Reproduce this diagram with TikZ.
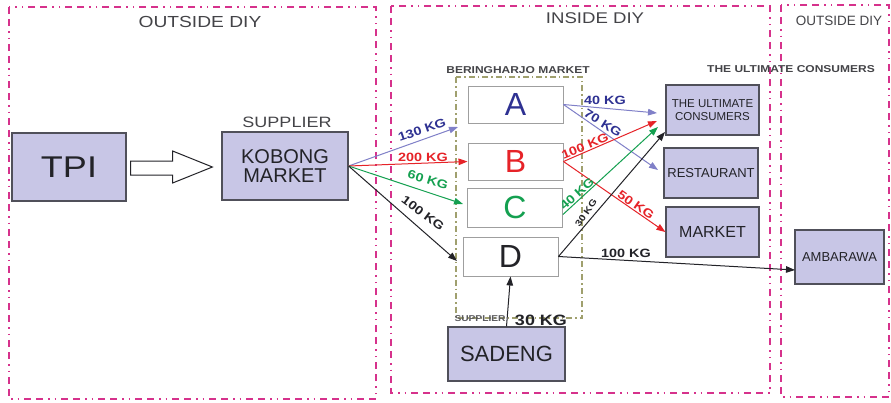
\documentclass[tikz,border=0pt]{standalone}
\usepackage{fontspec}
\setmainfont{Liberation Sans}
\newfontfamily\wide[FakeStretch=1.2]{Liberation Sans}
\usetikzlibrary{arrows.meta,calc}
\definecolor{boxfill}{RGB}{200,198,230}
\definecolor{boxline}{RGB}{80,80,90}
\definecolor{pinkframe}{RGB}{214,50,140}
\definecolor{olivedash}{RGB}{160,160,110}
\definecolor{navyink}{RGB}{46,49,146}
\definecolor{slatearrow}{RGB}{128,128,200}
\definecolor{kgred}{RGB}{230,35,40}
\definecolor{kggreen}{RGB}{20,160,80}
\definecolor{ink}{RGB}{35,35,40}
\newcommand{\fsz}[1]{\fontsize{#1}{#1}\selectfont}
\begin{document}
\begin{tikzpicture}[x=1pt,y=-1pt,
  lbox/.style={draw=boxline, line width=1.2pt, fill=boxfill, inner sep=0pt, align=center, text=ink},
  wbox/.style={draw=gray!75, line width=0.9pt, fill=white, inner sep=0pt, minimum width=95pt},
  region/.style={draw=pinkframe, line width=1.8pt, dash pattern=on 7pt off 5pt on 7pt off 5pt on 1.5pt off 5pt on 1.5pt off 5pt},
  flow/.style={line width=1pt, -{Triangle[length=9pt,width=6.5pt]}},
  kg/.style={font=\wide\bfseries\fsz{12}, inner sep=0pt},
  head/.style={text=ink!85, inner sep=0pt}
]
\useasboundingbox (0,0) rectangle (891,402);
\fill[white] (0,0) rectangle (891,402);

% regions
\draw[region] (9,7) rectangle (376,399);
\draw[region] (391,6) rectangle (770,393);
\draw[region] (781,5) rectangle (889,397);
\node[head, font=\wide\fsz{16}] (h1) at (200,22) {OUTSIDE DIY};
\node[head, font=\wide\fsz{15.5}] (h2) at (595,18) {INSIDE DIY};
\node[head, font=\fsz{13.5}] (h3) at (839,21) {OUTSIDE DIY};

% Beringharjo box
\draw[draw=olivedash, line width=1.2pt, dash pattern=on 6pt off 3pt on 1.5pt off 3pt] (456,77) rectangle (582,318);
\node[head, font=\wide\bfseries\fsz{10}] (bm) at (518,70) {BERINGHARJO MARKET};
\node[head, font=\wide\bfseries\fsz{10}] (ucl) at (791,69) {THE ULTIMATE CONSUMERS};

% left nodes
\node[lbox, minimum width=114pt, minimum height=68pt, font=\wide\fsz{30}] (tpi) at (69,167) {TPI};
\node[lbox, minimum width=126pt, minimum height=68pt, font=\fsz{20}] (kob) at (285,166) {KOBONG\\[-1pt]MARKET};
\node[head, font=\wide\fsz{15}] (sup) at (287,122) {SUPPLIER};
\draw[draw=ink, line width=1pt, fill=white]
  ($(tpi.east)+(4,-6)$) -- ++(42,0) -- ++(0,-10) -- ($(kob.west)+(-9,1)$) -- ($(tpi.east)+(46,16)$) -- ++(0,-8) -- ($(tpi.east)+(4,8)$) -- cycle;

% market stalls
\node[wbox, minimum height=37pt, text=navyink, font=\fsz{32}] (A) at (515.5,104.5) {A};
\node[wbox, minimum height=37pt, text=kgred, font=\fsz{32}] (B) at (515.5,161.5) {B};
\node[wbox, minimum height=39pt, text=kggreen, font=\fsz{32}] (C) at (515,207.5) {C};
\node[wbox, minimum height=39pt, text=ink, font=\fsz{32}] (D) at (510.5,256.5) {D};

% other nodes
\node[lbox, minimum width=117pt, minimum height=54pt, font=\fsz{22}] (sad) at (506.5,354) {SADENG};
\node[lbox, minimum width=93pt, minimum height=50pt, font=\fsz{11.5}] (uc) at (712.5,110) {THE ULTIMATE\\[1pt]CONSUMERS};
\node[lbox, minimum width=94pt, minimum height=50pt, font=\fsz{13}] (rest) at (711,173) {RESTAURANT};
\node[lbox, minimum width=93pt, minimum height=50pt, font=\fsz{16}] (mkt) at (712.5,232) {MARKET};
\node[lbox, minimum width=89pt, minimum height=54pt, font=\fsz{13}] (amb) at (839.5,257) {AMBARAWA};

\node[head, font=\wide\bfseries\fsz{8.5}, text=ink!75] (sup2) at (480,319) {SUPPLIER};
\node[head, font=\wide\bfseries\fsz{15}, text=ink] (kg30s) at (541,320) {30 KG};

% free ends
\coordinate (e130) at (458,127);
\coordinate (e60) at (463,204);
\coordinate (e100) at (457,261);
\coordinate (uc1) at (657,113);
\coordinate (uc2) at (657,121);
\coordinate (uc3) at (658,127);
\coordinate (uc4) at (665,132);
\coordinate (r1) at (658,170);
\coordinate (ambin) at (795,270);

% flows from Kobong
\draw[flow, slatearrow] (kob.east) -- (e130);
\draw[flow, kgred] (kob.east) -- (B.west);
\draw[flow, kggreen] (kob.east) -- (e60);
\draw[flow, ink] (kob.east) -- (e100);
\node[kg, text=navyink, rotate=19] (l130) at (422,130) {130 KG};
\node[kg, text=kgred] (l200) at (423,157) {200 KG};
\node[kg, text=kggreen, rotate=-17] (l60) at (428,180) {60 KG};
\node[kg, text=ink, rotate=-37] (l100) at (423,213) {100 KG};

% flows to consumers
\draw[flow, slatearrow] (A.east) -- (uc1);
\draw[flow, slatearrow] (A.east) -- (r1);
\draw[flow, kgred] (B.east) -- (uc2);
\draw[flow, kgred] (B.east) -- (mkt.west);
\draw[flow, kggreen] ($(C.east)+(0,7)$) -- (uc3);
\draw[flow, ink] (D.east) -- (uc4);
\draw[flow, ink] (D.east) -- (ambin);
\draw[flow, ink] (sad.north) -- (D.south);

\node[kg, text=navyink] (l40a) at (605,100) {40 KG};
\node[kg, text=navyink, rotate=-32] (l70) at (603,123) {70 KG};
\node[kg, text=kgred, rotate=22] (l100b) at (585,146) {100 KG};
\node[kg, text=kgred, rotate=-35] (l50) at (636,205) {50 KG};
\node[kg, text=kggreen, rotate=42] (l40c) at (577,194) {40 KG};
\node[kg, text=ink, font=\wide\bfseries\fsz{9}, rotate=55] (l30) at (586,213) {30 KG};
\node[kg, text=ink] (l100d) at (626,253) {100 KG};
\end{tikzpicture}
\end{document}
